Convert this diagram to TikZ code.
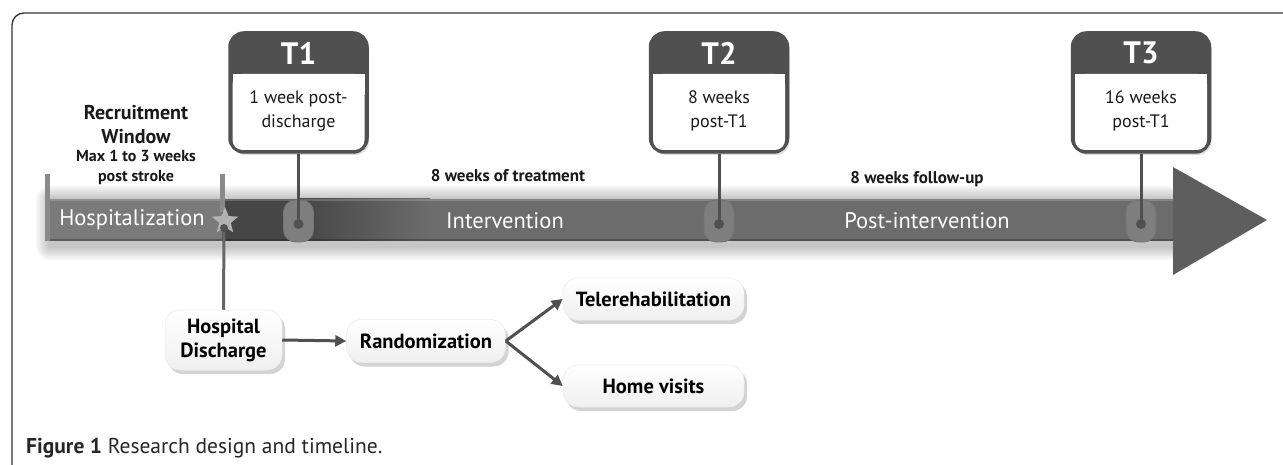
\documentclass[tikz,border=0pt]{standalone}
\usepackage{fontspec}
\setmainfont{PT Sans}
\usetikzlibrary{shapes.geometric,shadows,arrows.meta}
\definecolor{dk}{HTML}{505050}
\definecolor{hosp}{HTML}{7A7A7A}
\definecolor{darkbar}{HTML}{464646}
\definecolor{midbar}{HTML}{6C6C6C}
\definecolor{headc}{HTML}{5E5E5E}
\definecolor{tickc}{HTML}{8A8A8A}
\definecolor{ovalc}{HTML}{7E7E7E}
\newcommand\fs[2]{\fontsize{#1}{#2}\selectfont}
\newcommand\tmark[4]{%
  \node[tbox] (#1) at (#2,92.5) {};
  \fill[white, rounded corners=10pt] (#2-66,74) rectangle (#2+66,150);
  \fill[white] (#2-66,74) rectangle (#2+66,95);
  \node[thead] (#1h) at (#2,53) {#3};
  \node[tbody] (#1b) at (#2,111) {#4};
  \node[oval] (#1o) at (#2,221) {};
  \coordinate (#1d) at (#2,224);
  \draw[conn] (#1.south) -- (#1d);
  \node[dot] (#1dot) at (#1d) {};
}
\begin{document}
\begin{tikzpicture}[x=1pt,y=-1pt,
  tbox/.style={rounded corners=14pt, fill=dk, draw=dk, line width=3.5pt,
    minimum width=137pt, minimum height=119pt, inner sep=0pt,
    drop shadow={shadow xshift=2pt, shadow yshift=-3pt, opacity=0.3}},
  thead/.style={text=white, font=\bfseries\fs{31}{34}},
  tbody/.style={align=center, font=\fs{18}{24.5}, text=black!90},
  oval/.style={rounded corners=12pt, fill=ovalc, draw=black!55, line width=0.8pt,
    minimum width=30pt, minimum height=42pt, inner sep=0pt},
  dot/.style={circle, fill=dk, minimum size=10pt, inner sep=0pt},
  conn/.style={draw=dk, line width=3pt},
  lbox/.style={rounded corners=15pt, top color=white, bottom color=black!6, draw=black!8,
    line width=0.5pt, font=\bfseries\fs{20.5}{24}, align=center, inner sep=2pt,
    drop shadow={shadow xshift=3pt, shadow yshift=-4pt, opacity=0.35}},
  arr/.style={draw=dk, line width=3pt, -{Triangle[length=11pt,width=11pt]}},
  barlabel/.style={text=white, font=\fs{22.5}{26}},
  note/.style={font=\bfseries\fs{17}{20}, align=center, text=black!90}
]
\useasboundingbox (0,0) rectangle (1283,465);
% frame
\draw[rounded corners=12pt, line width=1.3pt, black!80] (12,466) -- (12,13) -- (1284,13);

% glow around the bar
\foreach \i in {2,4,...,14} {
  \fill[black, opacity=0.035, rounded corners=\i pt] (50-\i,197-\i+3) rectangle (1180,243+\i+3);
}
% bar
\fill[hosp] (50,199) rectangle (222,241);
\fill[darkbar] (222,199) rectangle (300,241);
\shade[left color=darkbar, right color=midbar] (300,199) rectangle (430,241);
\fill[midbar] (430,199) rectangle (1176,241);
\draw[white, opacity=0.18, line width=2pt] (50,200) -- (1174,200);
\draw[black, opacity=0.25, line width=2pt] (50,240) -- (1174,240);
\fill[headc] (1173,167) -- (1267,220) -- (1173,275) -- cycle;

% ticks of the recruitment window
\draw[tickc, line width=5pt] (47,174) -- (47,241);
\draw[tickc, line width=5pt] (222,174) -- (222,212);

% bar labels
\node[barlabel] (hosplab) at (132,220) {Hospitalization};
\node[barlabel] (intlab) at (505,221) {Intervention};
\node[barlabel] (postlab) at (927,221) {Post-intervention};

% star = hospital discharge moment
\node[star, star points=5, star point ratio=2.3, fill=black!30, minimum size=28pt, inner sep=0pt] (st) at (225,221) {};
\coordinate (stc) at (224,228);

% notes
\node[font=\bfseries\fs{20}{24}, align=center, text=black!90] (rw) at (136,125) {Recruitment\\Window};
\node[note, font=\bfseries\fs{16}{20}] (rwt) at (136,167) {Max 1 to 3 weeks\\post stroke};
\node[note] (treat) at (508,176) {8 weeks of treatment};
\node[note] (fu) at (917,179) {8 weeks follow-up};

% time points
\tmark{T1}{298.5}{T1}{1 week post-\\discharge}
\tmark{T2}{719}{T2}{8 weeks\\post-T1}
\tmark{T3}{1141}{T3}{16 weeks\\post-T1}

% lower flow
\node[lbox, minimum width=117pt, minimum height=60pt] (hd) at (223.5,340) {Hospital\\Discharge};
\draw[draw=black!60, line width=3pt] (stc) -- (hd.north);
\node[dot, minimum size=8pt] (stdot) at (stc) {};
\node[lbox, minimum width=159pt, minimum height=43pt] (rand) at (426,341) {Randomization};
\node[lbox, minimum width=181pt, minimum height=42pt] (tele) at (653.5,299) {Telerehabilitation};
\node[lbox, minimum width=181pt, minimum height=42pt] (home) at (653.5,386) {Home visits};
\draw[arr] (hd.east) -- (rand.west);
\draw[arr] (rand.east) -- (tele.west);
\draw[arr] (rand.east) -- (home.west);

% caption
\node[anchor=west, font=\fs{21.5}{24}, text=black!85, inner sep=0pt] (cap) at (26,448) {\textbf{Figure 1} Research design and timeline.};
\end{tikzpicture}
\end{document}
